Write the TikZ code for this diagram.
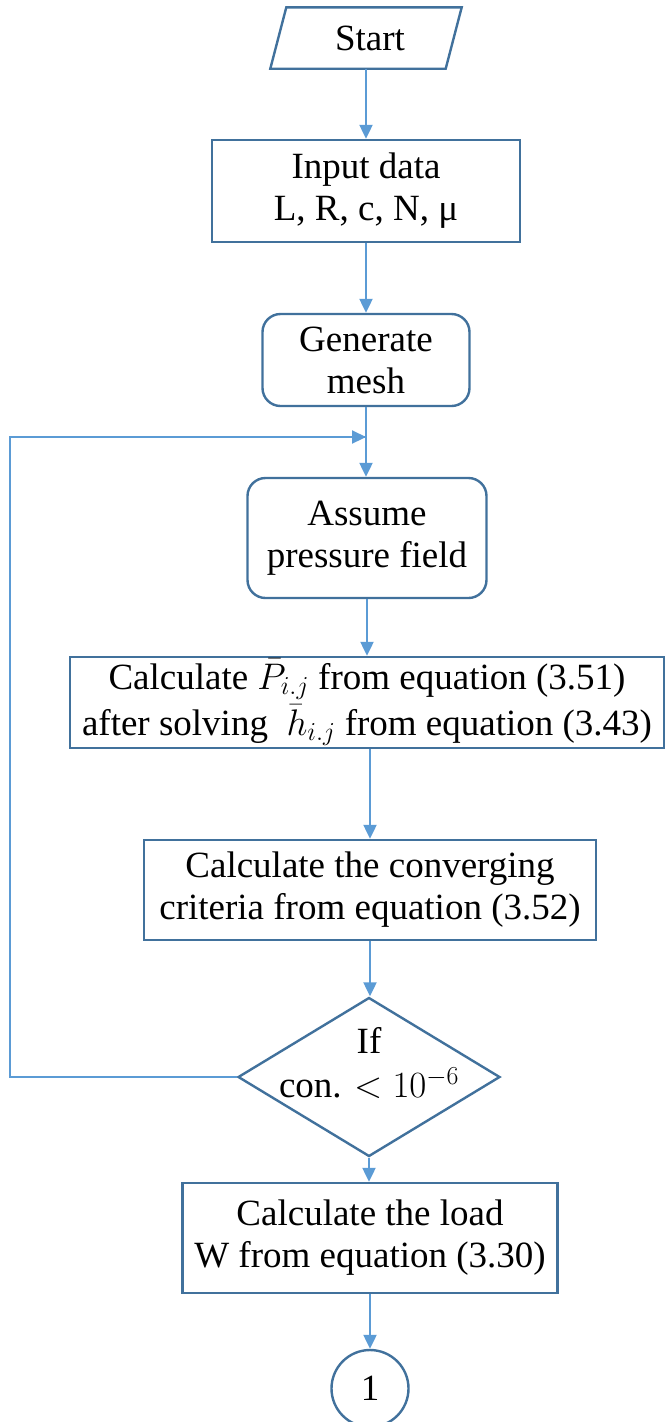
\RequirePackage{fix-cm}
\documentclass[tikz,border=0pt]{standalone}
\usepackage{amsmath}
\usepackage{fontspec}
\setmainfont{Liberation Serif}
\usepackage{tikz}
\usetikzlibrary{shapes.geometric, arrows.meta}
\definecolor{boxblue}{HTML}{41719C}
\definecolor{lineblue}{HTML}{5B9BD5}

\begin{document}
\begin{tikzpicture}[x=1pt, y=-1pt,
    box/.style={draw=boxblue, line width=2.4pt, fill=white, align=center,
        inner sep=0pt, font=\fontsize{37}{42}\selectfont},
    rbox/.style={box, rounded corners=18pt},
    flow/.style={draw=lineblue, line width=2.2pt, -{Triangle[width=13pt,length=14pt]}},
    loopline/.style={draw=lineblue, line width=1.6pt}]

    % Fix the page size
    \useasboundingbox (0,0) rectangle (665,1422);

    % Start (parallelogram drawn round the node)
    \node[align=center, inner sep=0pt, minimum width=175pt, minimum height=61pt,
        font=\fontsize{37}{42}\selectfont] (start) at (366,38) {\hspace*{8pt}Start};
    \draw[boxblue, line width=2.4pt] ([xshift=8pt]start.north west) -- ([xshift=8pt]start.north east)
        -- ([xshift=-8pt]start.south east) -- ([xshift=-8pt]start.south west) -- cycle;

    % The steps
    \node[box, minimum width=308pt, minimum height=102pt] (input) at (366,191) {Input data\\L, R, c, N, μ};
    \node[rbox, minimum width=207pt, minimum height=92pt] (mesh) at (366,360) {Generate\\mesh};
    \node[rbox, minimum width=239pt, minimum height=120pt] (assume) at (367,538) {Assume\\pressure field};
    \node[box, minimum width=594pt, minimum height=91pt, font=\fontsize{37}{46}\selectfont] (calcP) at (367,702.5)
        {Calculate $\bar{P}_{i.j}$ from equation (3.51)\\after solving \ $\bar{h}_{i.j}$ from equation (3.43)};
    \node[box, minimum width=452pt, minimum height=100pt] (conv) at (370,890)
        {Calculate the converging\\criteria from equation (3.52)};

    % Decision (text sits a little high in the diamond)
    \node[box, diamond, minimum width=262pt, minimum height=159pt] (cond) at (369,1077) {};
    \node[align=center, inner sep=0pt, font=\fontsize{37}{44}\selectfont] (condtext)
        at ([yshift=14pt]cond.center) {If\\con. $<10^{-6}$};

    \node[box, minimum width=375pt, minimum height=110pt] (load) at (370,1238)
        {Calculate the load\\W from equation (3.30)};
    \node[box, circle, minimum size=77pt] (conn) at (370,1388.5) {1};

    % Arrows between the steps
    \draw[flow] (start.south) -- (input.north);
    \draw[flow] (input) -- (mesh);
    \draw[flow] (mesh.south) -- (mesh.south |- assume.north);
    \draw[flow] (assume.south) -- (assume.south |- calcP.north);
    \draw[flow] (calcP.south -| conv) -- (conv.north);
    \draw[flow] (conv.south) -- (conv.south |- cond.north);
    \draw[flow] (cond.south) -- (cond.south |- load.north);
    \draw[flow] (load) -- (conn);

    % Loop back when not converged
    \coordinate (join) at (366,437);
    \draw[loopline] (cond.west) -- (10,1077) -- (10,437) -- (join);
    \draw[flow] (80,437) -- (join);

\end{tikzpicture}
\end{document}
